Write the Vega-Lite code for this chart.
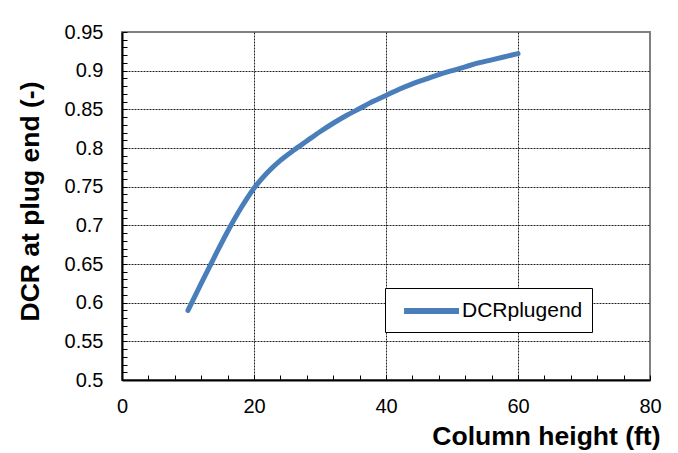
{
  "$schema": "https://vega.github.io/schema/vega-lite/v6.json",
  "autosize": "none",
  "width": 528,
  "height": 348,
  "padding": {"left": 122, "top": 32, "right": 28, "bottom": 73},
  "background": "white",
  "config": {
    "view": {"stroke": "#808080", "strokeWidth": 2},
    "font": "Liberation Sans"
  },
  "data": {
    "values": [
      {"h": 10, "dcr": 0.590, "series": "DCRplugend"},
      {"h": 12, "dcr": 0.625, "series": "DCRplugend"},
      {"h": 14, "dcr": 0.659, "series": "DCRplugend"},
      {"h": 16, "dcr": 0.692, "series": "DCRplugend"},
      {"h": 18, "dcr": 0.722, "series": "DCRplugend"},
      {"h": 20, "dcr": 0.748, "series": "DCRplugend"},
      {"h": 22, "dcr": 0.768, "series": "DCRplugend"},
      {"h": 24, "dcr": 0.784, "series": "DCRplugend"},
      {"h": 26, "dcr": 0.797, "series": "DCRplugend"},
      {"h": 28, "dcr": 0.809, "series": "DCRplugend"},
      {"h": 30, "dcr": 0.821, "series": "DCRplugend"},
      {"h": 32, "dcr": 0.832, "series": "DCRplugend"},
      {"h": 34, "dcr": 0.842, "series": "DCRplugend"},
      {"h": 36, "dcr": 0.851, "series": "DCRplugend"},
      {"h": 38, "dcr": 0.860, "series": "DCRplugend"},
      {"h": 40, "dcr": 0.868, "series": "DCRplugend"},
      {"h": 42, "dcr": 0.876, "series": "DCRplugend"},
      {"h": 44, "dcr": 0.883, "series": "DCRplugend"},
      {"h": 46, "dcr": 0.889, "series": "DCRplugend"},
      {"h": 48, "dcr": 0.895, "series": "DCRplugend"},
      {"h": 50, "dcr": 0.900, "series": "DCRplugend"},
      {"h": 52, "dcr": 0.905, "series": "DCRplugend"},
      {"h": 54, "dcr": 0.910, "series": "DCRplugend"},
      {"h": 56, "dcr": 0.914, "series": "DCRplugend"},
      {"h": 58, "dcr": 0.918, "series": "DCRplugend"},
      {"h": 60, "dcr": 0.922, "series": "DCRplugend"}
    ]
  },
  "mark": {"type": "line", "interpolate": "monotone", "strokeWidth": 5, "strokeCap": "round", "strokeJoin": "round"},
  "encoding": {
    "x": {
      "field": "h",
      "type": "quantitative",
      "scale": {"domain": [0, 80], "nice": false, "zero": false},
      "axis": {
        "title": "Column height (ft)",
        "values": [0, 4, 8, 12, 16, 20, 24, 28, 32, 36, 40, 44, 48, 52, 56, 60, 64, 68, 72, 76, 80],
        "labelExpr": "datum.value % 20 === 0 ? format(datum.value, 'd') : ''",
        "labelFont": "Liberation Sans",
        "labelFontSize": 20,
        "labelColor": "black",
        "labelPadding": 21,
        "labelFlush": false,
        "labelOverlap": false,
        "tickSize": -5,
        "tickColor": "black",
        "tickWidth": 1,
        "domainColor": "black",
        "domainWidth": 2,
        "grid": true,
        "gridColor": "#222",
        "gridDash": [2, 1],
        "gridWidth": 1,
        "gridOpacity": {"condition": {"test": "datum.value % 20 === 0 && datum.value > 0 && datum.value < 80", "value": 1}, "value": 0},
        "titleFont": "Liberation Sans",
        "titleFontSize": 26.5,
        "titleFontWeight": "bold",
        "titleColor": "black",
        "titleAnchor": "end",
        "titleAlign": "right",
        "titleBaseline": "alphabetic",
        "titleX": 538,
        "titleY": 64
      }
    },
    "y": {
      "field": "dcr",
      "type": "quantitative",
      "scale": {"domain": [0.5, 0.95], "nice": false, "zero": false},
      "axis": {
        "title": "DCR at plug end (-)",
        "values": [0.5, 0.51, 0.52, 0.53, 0.54, 0.55, 0.56, 0.57, 0.58, 0.59, 0.6, 0.61, 0.62, 0.63, 0.64, 0.65, 0.66, 0.67, 0.68, 0.69, 0.7, 0.71, 0.72, 0.73, 0.74, 0.75, 0.76, 0.77, 0.78, 0.79, 0.8, 0.81, 0.82, 0.83, 0.84, 0.85, 0.86, 0.87, 0.88, 0.89, 0.9, 0.91, 0.92, 0.93, 0.94, 0.95],
        "labelExpr": "abs(datum.value * 20 - round(datum.value * 20)) < 0.000001 ? format(datum.value, '.2~f') : ''",
        "labelFont": "Liberation Sans",
        "labelFontSize": 20,
        "labelColor": "black",
        "labelPadding": 24,
        "labelFlush": false,
        "labelOverlap": false,
        "tickSize": -5,
        "tickColor": "black",
        "tickWidth": 1,
        "domainColor": "black",
        "domainWidth": 2,
        "grid": true,
        "gridColor": "#222",
        "gridDash": [2, 1],
        "gridWidth": 1,
        "gridOpacity": {"condition": {"test": "abs(datum.value * 20 - round(datum.value * 20)) < 0.000001 && datum.value > 0.51 && datum.value < 0.94", "value": 1}, "value": 0},
        "titleFont": "Liberation Sans",
        "titleFontSize": 26.5,
        "titleFontWeight": "bold",
        "titleColor": "black",
        "titleAngle": -90,
        "titleAlign": "center",
        "titleBaseline": "middle",
        "titleX": -92,
        "titleY": 169
      }
    },
    "color": {
      "field": "series",
      "type": "nominal",
      "scale": {"range": ["#4a7ebb"]},
      "legend": {
        "title": null,
        "orient": "none",
        "legendX": 263,
        "legendY": 256,
        "direction": "vertical",
        "symbolType": "M-0.36,0H4.64",
        "symbolSize": 484,
        "symbolStrokeWidth": 6,
        "symbolFillColor": "transparent",
        "labelFont": "Liberation Sans",
        "labelFontSize": 21,
        "labelColor": "black",
        "labelOffset": 40,
        "padding": 9,
        "strokeColor": "black",
        "fillColor": "white",
        "cornerRadius": 0
      }
    }
  }
}
